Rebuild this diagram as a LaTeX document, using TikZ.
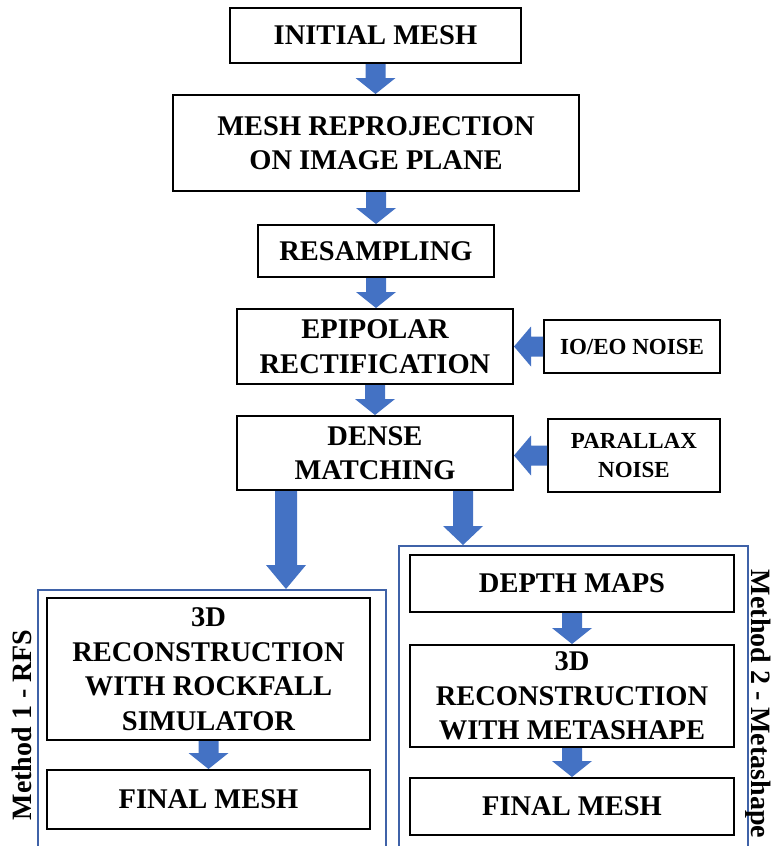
\documentclass[tikz,border=0pt]{standalone}
\usepackage{fontspec}
\setmainfont{Liberation Serif}
\usetikzlibrary{calc}
\definecolor{arrblue}{HTML}{4472C4}
\definecolor{grpblue}{HTML}{3F62A8}
\tikzset{
  box/.style={draw=black, line width=2pt, inner sep=0pt, align=center,
    font=\fontsize{28.5}{34.5}\selectfont\bfseries},
  smallbox/.style={box, font=\fontsize{23}{29}\selectfont\bfseries},
  grp/.style={draw=grpblue, line width=1.6pt, inner sep=0pt},
  sidelabel/.style={font=\fontsize{28}{32}\selectfont\bfseries, inner sep=0pt}
}
% vertical arrow: start, end, shaft half width, head half width, head length
\newcommand\varrow[5]{%
  \fill[arrblue] let \p1=(#1), \p2=(#2) in
   (\x1-#3pt,\y1) -- (\x1+#3pt,\y1) -- (\x1+#3pt,\y2+#5pt) -- (\x1+#4pt,\y2+#5pt)
   -- (\x1,\y2) -- (\x1-#4pt,\y2+#5pt) -- (\x1-#3pt,\y2+#5pt) -- cycle;}
% leftward arrow
\newcommand\larrow[5]{%
  \fill[arrblue] let \p1=(#1), \p2=(#2) in
   (\x1,\y1+#3pt) -- (\x2+#5pt,\y1+#3pt) -- (\x2+#5pt,\y1+#4pt) -- (\x2,\y1)
   -- (\x2+#5pt,\y1-#4pt) -- (\x2+#5pt,\y1-#3pt) -- (\x1,\y1-#3pt) -- cycle;}
\begin{document}
\begin{tikzpicture}[x=1pt,y=-1pt]
\useasboundingbox (0,0) rectangle (774,846);

\node[box, minimum width=291, minimum height=55] (init) at (375.5,35.5) {INITIAL MESH};
\node[box, minimum width=406, minimum height=96] (reproj) at (376,143) {MESH REPROJECTION\\ON IMAGE PLANE};
\node[box, minimum width=236, minimum height=52] (resamp) at (376,251) {RESAMPLING};
\node[box, minimum width=276, minimum height=75] (epi) at (375,346.5) {EPIPOLAR\\RECTIFICATION};
\node[box, minimum width=276, minimum height=74] (dense) at (375,453) {DENSE\\MATCHING};
\node[smallbox, minimum width=176, minimum height=53] (ioeo) at (632,346.5) {IO/EO NOISE};
\node[smallbox, minimum width=172, minimum height=73] (parallax) at (634,455.5) {PARALLAX\\NOISE};

\node[grp, minimum width=348, minimum height=280, anchor=north west] (g1) at (37,589) {};
\node[grp, minimum width=349, minimum height=320, anchor=north west] (g2) at (398,545) {};

\node[box, minimum width=323, minimum height=142] (recon1) at (208.5,669) {3D\\RECONSTRUCTION\\WITH ROCKFALL\\SIMULATOR};
\node[box, minimum width=323, minimum height=59] (final1) at (208.5,799.5) {FINAL MESH};
\node[box, minimum width=324, minimum height=57] (depth) at (572,583.5) {DEPTH MAPS};
\node[box, minimum width=324, minimum height=102] (recon2) at (572,696) {3D\\RECONSTRUCTION\\WITH METASHAPE};
\node[box, minimum width=324, minimum height=57] (final2) at (572,806.5) {FINAL MESH};

\node[sidelabel, rotate=90] (m1) at (22,725) {Method 1 - RFS};
\node[sidelabel, rotate=-90] (m2) at (758,704) {Method 2 - Metashape};

\varrow{init.south}{reproj.north}{10}{20}{16}
\varrow{reproj.south}{resamp.north}{10}{20}{16}
\varrow{resamp.south}{epi.north}{10}{20}{16}
\varrow{epi.south}{dense.north}{10}{20}{16}
\larrow{ioeo.west}{epi.east}{10}{20}{17}
\larrow{parallax.west}{dense.east}{10}{20}{17}

\coordinate (s1) at ($(dense.south)+(-89,0)$);
\coordinate (e1) at (s1 |- g1.north);
\coordinate (s2) at ($(dense.south)+(88,0)$);
\coordinate (e2) at (s2 |- g2.north);
\varrow{s1}{e1}{11}{20}{24}
\varrow{s2}{e2}{10}{20}{19}

\varrow{recon1.south}{final1.north}{10}{20}{16}
\varrow{depth.south}{recon2.north}{10}{20}{16}
\varrow{recon2.south}{final2.north}{10}{20}{16}
\end{tikzpicture}
\end{document}
